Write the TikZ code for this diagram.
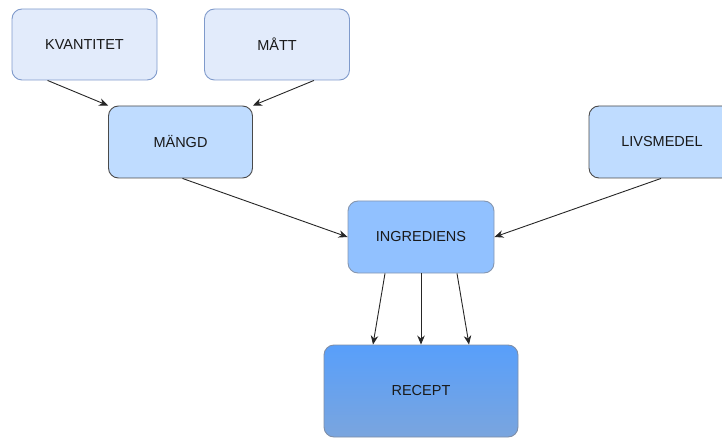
\documentclass[tikz,border=0pt]{standalone}
\usepackage{fontspec}
\setmainfont{Liberation Sans}
\usetikzlibrary{arrows.meta}
\definecolor{paleFill}{HTML}{E2EBFB}
\definecolor{paleLine}{HTML}{7F9ACB}
\definecolor{midFill}{HTML}{BFDCFF}
\definecolor{midLine}{HTML}{4A4A4A}
\definecolor{ingFill}{HTML}{91C1FF}
\definecolor{ingLine}{HTML}{8596B0}
\definecolor{recTop}{HTML}{589FFB}
\definecolor{recBot}{HTML}{7AA5DE}
\definecolor{recLine}{HTML}{7E8EA8}
\tikzset{
  x=1pt, y=-1pt,
  entity/.style={rounded corners=10pt, line width=0.9pt, inner sep=0pt,
    font=\fontsize{14.5}{16}\selectfont, text=black!90},
  pale/.style={entity, draw=paleLine, fill=paleFill, minimum width=145pt, minimum height=71pt},
  mid/.style={entity, draw=midLine, fill=midFill, minimum width=144pt, minimum height=72pt},
  ing/.style={entity, draw=ingLine, fill=ingFill, minimum width=146pt, minimum height=72pt},
  rec/.style={entity, draw=recLine, top color=recTop, bottom color=recBot, minimum width=194pt, minimum height=92pt},
  link/.style={draw=black!85, line width=0.9pt, -{Stealth[length=9pt, width=7.5pt]}}
}
\begin{document}
\begin{tikzpicture}
\useasboundingbox (0,0) rectangle (722,438);
% entities
\node[pale] (kvant) at (84.5,44.5) {KVANTITET};
\node[pale] (matt) at (277,44.5) {MÅTT};
\node[mid] (mangd) at (180.5,142) {MÄNGD};
\node[mid, minimum width=146pt] (livs) at (662,142) {LIVSMEDEL};
\node[ing] (ingr) at (421,237) {INGREDIENS};
\node[rec] (recept) at (421,391) {RECEPT};
% relations
\draw[link] (kvant.south west) ++(36,0) -- (mangd.north west);
\draw[link] (matt.south east) ++(-36,0) -- (mangd.north east);
\draw[link] (mangd.south) ++(2,0) -- (ingr.west);
\draw[link] (livs.south) ++(-1,0) -- (ingr.east);
\draw[link] (ingr.south) ++(-36,0) -- ([xshift=-48pt]recept.north);
\draw[link] (ingr.south) -- (recept.north);
\draw[link] (ingr.south) ++(36,0) -- ([xshift=48pt]recept.north);
\end{tikzpicture}
\end{document}
